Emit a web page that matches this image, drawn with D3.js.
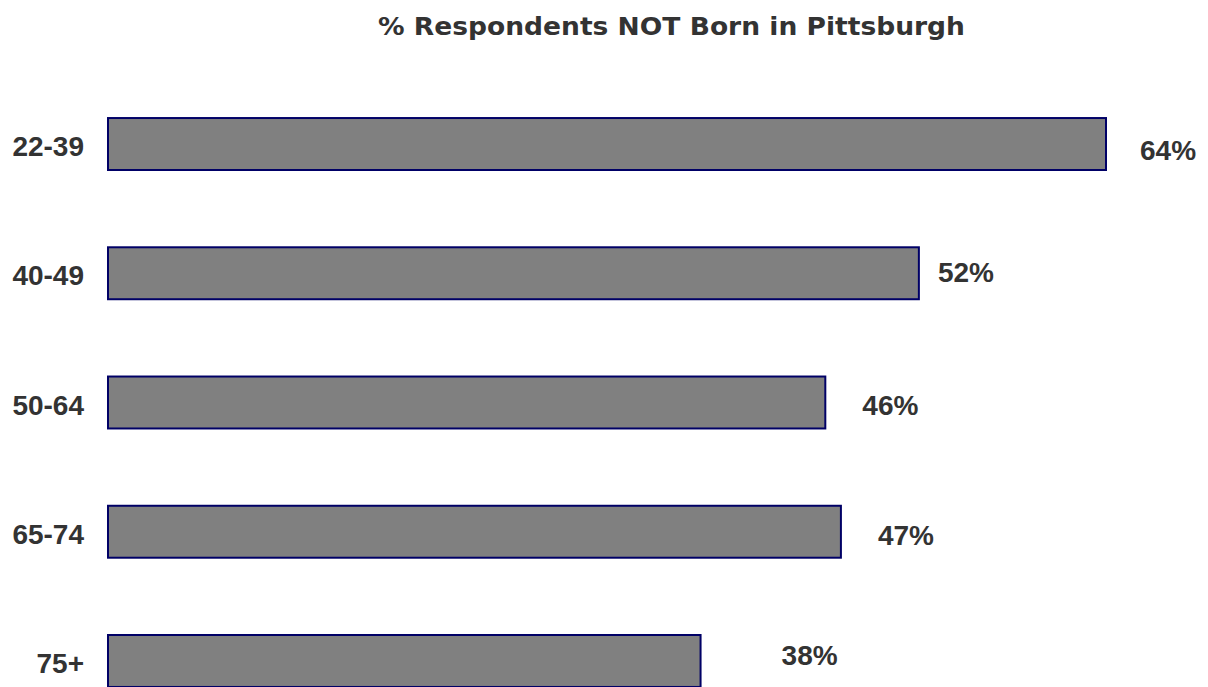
<!DOCTYPE html>
<html>
<head>
<meta charset="utf-8">
<script src="https://cdn.jsdelivr.net/npm/d3@7"></script>
<style>
  html, body { margin: 0; padding: 0; background: #fff; }
  svg { display: block; }
</style>
</head>
<body>
<div id="chart"></div>
<script>
//Chart data
const TITLE = "% Respondents NOT Born in Pittsburgh";
const AGE_GROUPS = ["22-39", "40-49", "50-64", "65-74", "75+"];
const PCT_NOT_BORN = [64, 52, 46, 47, 38];

//Label nudges, the source chart places value labels a bit irregularly
const LABEL_DX = [34, 19, 37, 37, 81];
const LABEL_DY = [16, 9, 12, 13, 4];

const width = 1208, height = 687;

const svg = d3.select("#chart").append("svg")
    .attr("width", width)
    .attr("height", height);

let x = d3.scaleLinear()
    .domain([0, 64])
    .range([108, 1106]);

let y = d3.scaleBand()
    .domain(AGE_GROUPS)
    .range([79.4, 725.6])
    .paddingInner(0.598)
    .paddingOuter(0.299);

let rows = AGE_GROUPS.map((g, i) => ({group: g, value: PCT_NOT_BORN[i], dx: LABEL_DX[i], dy: LABEL_DY[i]}));

//Title
svg.append("text")
    .attr("x", 671.5)
    .attr("y", 35)
    .attr("text-anchor", "middle")
    .attr("textLength", 587)
    .attr("lengthAdjust", "spacingAndGlyphs")
    .style("font-family", "'DejaVu Sans', Verdana, sans-serif")
    .style("font-weight", "bold")
    .style("font-size", "25px")
    .style("fill", "#333333")
    .text(TITLE);

//Bars
svg.selectAll("rect.bar")
    .data(rows)
    .enter().append("rect")
    .attr("class", "bar")
    .attr("x", x(0))
    .attr("y", d => y(d.group))
    .attr("width", d => x(d.value) - x(0))
    .attr("height", y.bandwidth())
    .style("fill", "#808080")
    .style("stroke", "#000066")
    .style("stroke-width", 2);

//Category labels
svg.selectAll("text.cat")
    .data(rows)
    .enter().append("text")
    .attr("class", "cat")
    .attr("x", 84)
    .attr("y", d => y(d.group) + y.bandwidth() / 2 + 12)
    .attr("text-anchor", "end")
    .style("font-family", "'Liberation Sans', Arial, sans-serif")
    .style("font-weight", "bold")
    .style("font-size", "28px")
    .style("fill", "#333333")
    .text(d => d.group);

//Value labels
svg.selectAll("text.val")
    .data(rows)
    .enter().append("text")
    .attr("class", "val")
    .attr("x", d => x(d.value) + d.dx)
    .attr("y", d => y(d.group) + y.bandwidth() / 2 + d.dy)
    .style("font-family", "'Liberation Sans', Arial, sans-serif")
    .style("font-weight", "bold")
    .style("font-size", "28px")
    .style("fill", "#333333")
    .text(d => d.value + "%");
</script>
</body>
</html>
